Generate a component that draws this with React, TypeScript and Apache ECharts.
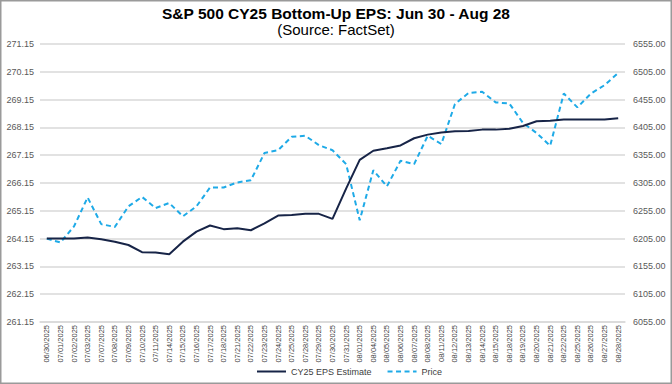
import React, { useEffect, useRef } from "react";
import * as echarts from "echarts";

const dates = [
  "06/30/2025", "07/01/2025", "07/02/2025", "07/03/2025", "07/07/2025", "07/08/2025",
  "07/09/2025", "07/10/2025", "07/11/2025", "07/14/2025", "07/15/2025", "07/16/2025",
  "07/17/2025", "07/18/2025", "07/21/2025", "07/22/2025", "07/23/2025", "07/24/2025",
  "07/25/2025", "07/28/2025", "07/29/2025", "07/30/2025", "07/31/2025", "08/01/2025",
  "08/04/2025", "08/05/2025", "08/06/2025", "08/07/2025", "08/08/2025", "08/11/2025",
  "08/12/2025", "08/13/2025", "08/14/2025", "08/15/2025", "08/18/2025", "08/19/2025",
  "08/20/2025", "08/21/2025", "08/22/2025", "08/25/2025", "08/26/2025", "08/27/2025",
  "08/28/2025",
];

const epsEstimate = [
  264.15, 264.15, 264.15, 264.19, 264.13, 264.04, 263.92, 263.66, 263.65, 263.59,
  264.04, 264.4, 264.62, 264.49, 264.52, 264.45, 264.7, 264.98, 265.0, 265.04,
  265.04, 264.86, 265.95, 266.98, 267.31, 267.4, 267.5, 267.76, 267.89, 267.97,
  268.01, 268.02, 268.07, 268.07, 268.1, 268.2, 268.37, 268.39, 268.43, 268.43,
  268.43, 268.43, 268.48,
];

const price = [
  6205, 6198, 6227, 6279, 6231, 6226, 6263, 6280, 6260, 6269, 6245, 6263, 6297,
  6297, 6306, 6310, 6359, 6364, 6388, 6390, 6373, 6364, 6339, 6238, 6328, 6299,
  6345, 6339, 6390, 6375, 6447, 6467, 6469, 6450, 6448, 6413, 6395, 6372, 6466,
  6441, 6466, 6481, 6503,
];

const leftTicks = [261.15, 262.15, 263.15, 264.15, 265.15, 266.15, 267.15, 268.15, 269.15, 270.15, 271.15];
const rightTicks = [6055, 6105, 6155, 6205, 6255, 6305, 6355, 6405, 6455, 6505, 6555];

const FONT = "'Liberation Sans', Arial, sans-serif";

export default function App() {
  const ref = useRef<HTMLDivElement>(null);
  useEffect(() => {
    if (!ref.current) return;
    const chart = echarts.init(ref.current, undefined, { renderer: "svg" });
    chart.setOption({
      animation: false,
      backgroundColor: "#ffffff",
      textStyle: { fontFamily: FONT },
      title: {
        text: "S&P 500 CY25 Bottom-Up EPS: Jun 30 - Aug 28",
        subtext: "(Source: FactSet)",
        left: "center",
        top: 0,
        itemGap: 1,
        textStyle: { fontFamily: FONT, fontSize: 15.5, fontWeight: "bold", color: "#000000" },
        subtextStyle: { fontFamily: FONT, fontSize: 15, color: "#000000" },
      },
      graphic: [
        {
          type: "rect",
          shape: { x: 0.75, y: 0.75, width: 670.5, height: 382.5 },
          style: { fill: "none", stroke: "#9a9a9a", lineWidth: 1.5 },
          silent: true,
        },
      ],
      legend: {
        bottom: 3,
        left: 251,
        itemWidth: 29,
        itemHeight: 8,
        itemGap: 15,
        itemStyle: { opacity: 0 },
        textStyle: { fontFamily: FONT, fontSize: 9, color: "#404040" },
        data: ["CY25 EPS Estimate", "Price"],
      },
      grid: { left: 40, right: 47, top: 44, bottom: 62 },
      xAxis: {
        type: "category",
        data: dates,
        boundaryGap: true,
        axisLine: { show: true, lineStyle: { color: "#d9d9d9", width: 1.5 } },
        axisTick: { show: false },
        axisLabel: {
          interval: 0,
          rotate: 90,
          fontSize: 7.5,
          color: "#404040",
          margin: 3,
          fontFamily: FONT,
        },
      },
      yAxis: [
        {
          type: "value",
          min: 261.15,
          max: 271.15,
          axisLine: { show: false },
          axisTick: { show: false, customValues: leftTicks },
          axisLabel: {
            customValues: leftTicks,
            formatter: (v: number) => v.toFixed(2),
            fontSize: 9,
            color: "#595959",
            margin: 6,
            fontFamily: FONT,
          },
          splitLine: { show: true, lineStyle: { color: "#d9d9d9", width: 1.5 } },
        },
        {
          type: "value",
          min: 6055,
          max: 6555,
          position: "right",
          axisLine: { show: false },
          axisTick: { show: false, customValues: rightTicks },
          axisLabel: {
            customValues: rightTicks,
            formatter: (v: number) => v.toFixed(2),
            fontSize: 9,
            color: "#595959",
            margin: 8,
            fontFamily: FONT,
          },
          splitLine: { show: false },
        },
      ],
      series: [
        {
          name: "CY25 EPS Estimate",
          type: "line",
          data: epsEstimate,
          yAxisIndex: 0,
          symbol: "none",
          lineStyle: { color: "#172447", width: 2 },
          itemStyle: { color: "#172447" },
          z: 3,
        },
        {
          name: "Price",
          type: "line",
          data: price,
          yAxisIndex: 1,
          symbol: "none",
          lineStyle: { color: "#1EAAE7", width: 2, type: [5, 3.5] },
          itemStyle: { color: "#1EAAE7" },
          z: 2,
        },
      ],
    });
    return () => chart.dispose();
  }, []);
  return (
    <div
      ref={ref}
      style={{ position: "absolute", left: 0, top: 0, width: 672, height: 384 }}
    />
  );
}
